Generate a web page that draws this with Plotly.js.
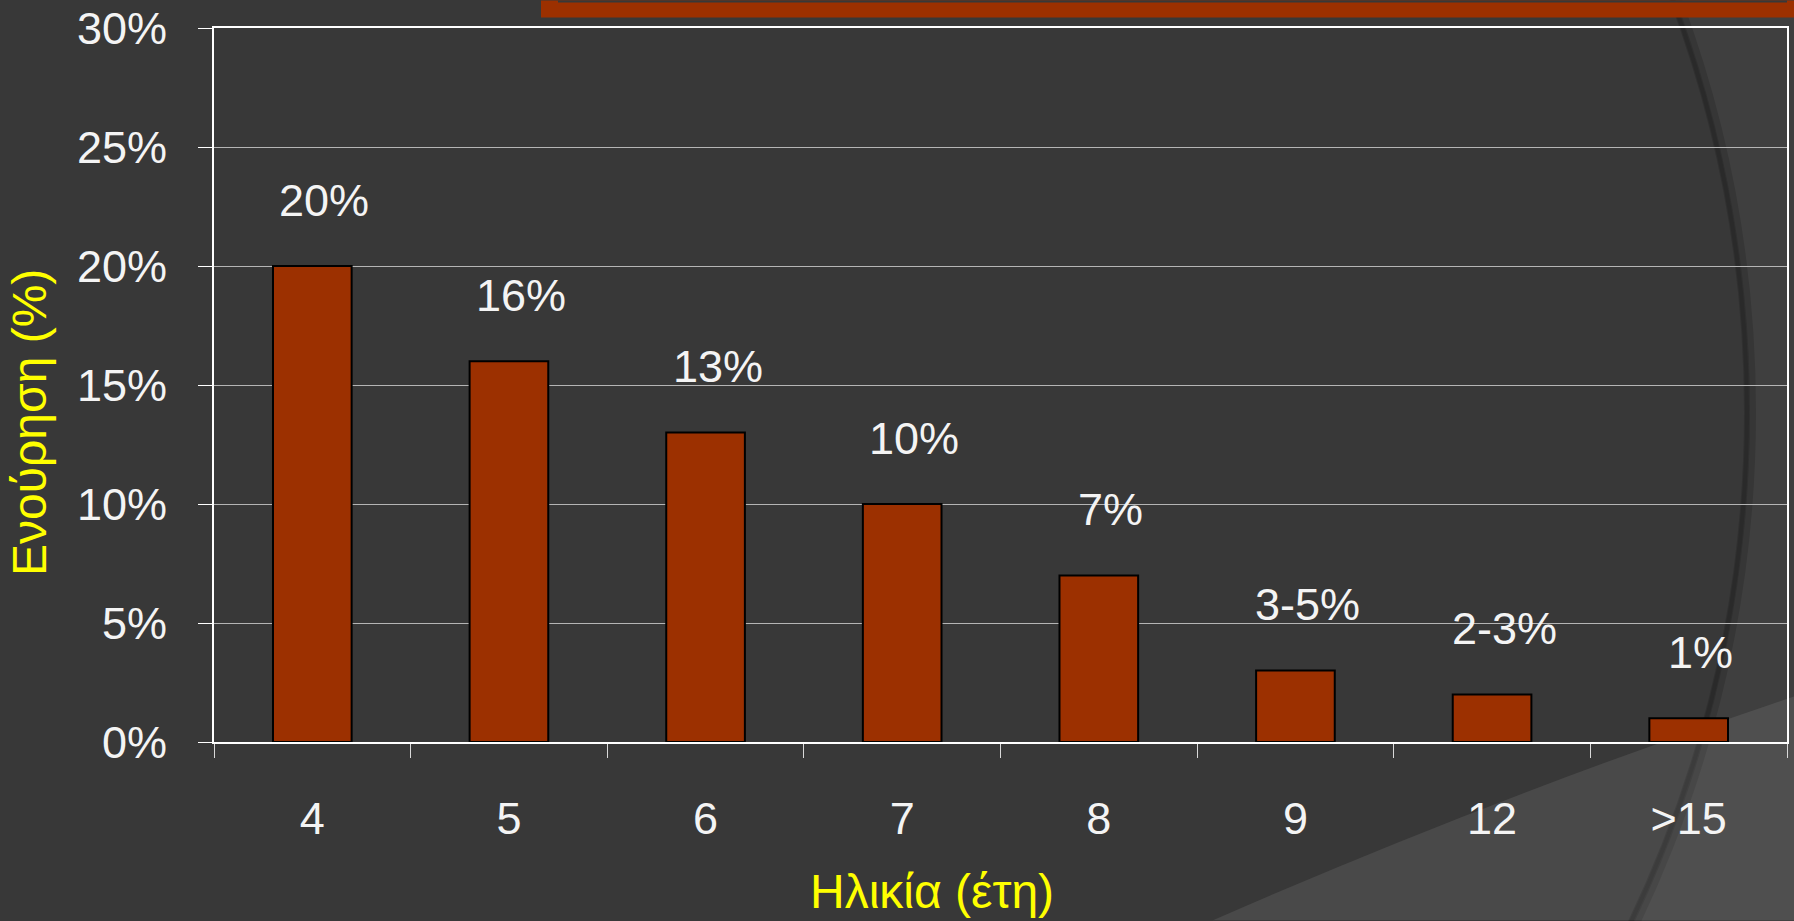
<!DOCTYPE html>
<html>
<head>
<meta charset="utf-8">
<script src="https://cdn.plot.ly/plotly-3.0.1.min.js"></script>
<style>
html,body{margin:0;padding:0;background:#383838;}
#chart{width:1794px;height:921px;}
</style>
</head>
<body>
<div id="chart"></div>
<script>
// ---- data ----
const categories = ["4", "5", "6", "7", "8", "9", "12", ">15"];
const values = [20, 16, 13, 10, 7, 3, 2, 1];
const valueLabels = ["20%", "16%", "13%", "10%", "7%", "3-5%", "2-3%", "1%"];
const yTitle = "Ενούρηση (%)";
const xTitle = "Ηλικία (έτη)";

// ---- layout geometry (pixels) ----
const W = 1794, H = 921;
const L = 214, R = 1787, T = 27.5, B = 742.5;
const PX = p => (p - L) / (R - L);
const PY = p => (B - p) / (B - T);

const FONT = '"Liberation Sans", Arial, sans-serif';
const ORANGE = '#9C3000';

const trace = {
  type: 'bar',
  x: categories,
  y: values,
  width: 0.4,
  marker: {color: ORANGE, line: {color: '#000000', width: 2}},
  hoverinfo: 'skip'
};

// on a category axis, annotation x is the category index
const annotations = categories.map((c, i) => ({
  x: i, y: values[i], xref: 'x', yref: 'y',
  text: valueLabels[i], showarrow: false,
  xanchor: 'center', yanchor: 'middle',
  xshift: 12, yshift: 66,
  font: {family: FONT, size: 45, color: '#f4f4f4'}
}));

annotations.push({
  xref: 'paper', yref: 'paper', x: PX(932), y: PY(892),
  text: xTitle, showarrow: false, xanchor: 'center', yanchor: 'middle',
  font: {family: FONT, size: 48, color: '#FFFF00'}
});
annotations.push({
  xref: 'paper', yref: 'paper', x: PX(30), y: PY(423),
  text: yTitle, showarrow: false, textangle: -90, xanchor: 'center', yanchor: 'middle',
  font: {family: FONT, size: 48, color: '#FFFF00'}
});

// decorative background shapes
const cx = 565, cy = 412, cr = 1185;
const shapes = [
  {type: 'circle', xref: 'paper', yref: 'paper', layer: 'below',
   x0: PX(cx - cr), x1: PX(cx + cr), y0: PY(cy + cr), y1: PY(cy - cr),
   fillcolor: '#383838', line: {color: 'rgba(0,0,0,0.14)', width: 12}},
  {type: 'circle', xref: 'paper', yref: 'paper', layer: 'below',
   x0: PX(cx - cr + 3), x1: PX(cx + cr - 3), y0: PY(cy + cr - 3), y1: PY(cy - cr + 3),
   fillcolor: 'rgba(0,0,0,0)', line: {color: 'rgba(0,0,0,0.12)', width: 4}},
  {type: 'path', xref: 'paper', yref: 'paper', layer: 'below',
   path: `M ${PX(1213)} ${PY(921)} Q ${PX(1500)} ${PY(795)} ${PX(1794)} ${PY(697)} L ${PX(1794)} ${PY(921)} Z`,
   fillcolor: 'rgba(255,255,255,0.085)', line: {width: 0}},
  {type: 'rect', xref: 'paper', yref: 'paper', layer: 'below',
   x0: PX(541), x1: PX(1794), y0: PY(17), y1: PY(0),
   fillcolor: ORANGE, line: {width: 0}},
  {type: 'rect', xref: 'paper', yref: 'paper', layer: 'below',
   x0: PX(558), x1: PX(1787), y0: PY(2), y1: PY(0),
   fillcolor: '#383838', line: {width: 0}}
];

const layout = {
  width: W, height: H,
  margin: {l: L, r: W - R, t: T, b: H - B, pad: 0},
  paper_bgcolor: '#3f3f3f',
  plot_bgcolor: 'rgba(0,0,0,0)',
  showlegend: false,
  bargap: 0.6,
  xaxis: {
    type: 'category',
    range: [-0.5, categories.length - 0.5],
    showline: true, linecolor: '#ffffff', linewidth: 2, mirror: true,
    ticks: 'outside', tickson: 'boundaries', ticklen: 14, tickcolor: '#d8d8d8', tickwidth: 1,
    showgrid: false, zeroline: false,
    ticklabelstandoff: 36,
    tickfont: {family: FONT, size: 45, color: '#f4f4f4'},
    fixedrange: true
  },
  yaxis: {
    range: [0, 30], dtick: 5, tick0: 0, ticksuffix: '%',
    showline: true, linecolor: '#ffffff', linewidth: 2, mirror: true,
    ticks: 'outside', ticklen: 14, tickcolor: '#ffffff', tickwidth: 1,
    showgrid: true, gridcolor: '#b5b5b5', gridwidth: 1, zeroline: false,
    ticklabelstandoff: 22,
    tickfont: {family: FONT, size: 45, color: '#f4f4f4'},
    fixedrange: true
  },
  annotations: annotations,
  shapes: shapes
};

Plotly.newPlot('chart', [trace], layout, {displayModeBar: false, staticPlot: true});
</script>
</body>
</html>
